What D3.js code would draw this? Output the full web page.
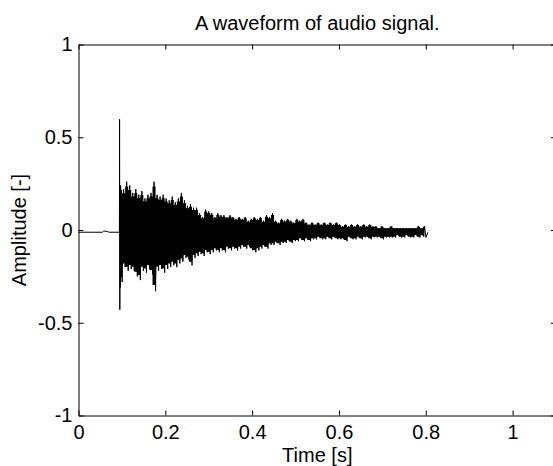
<!DOCTYPE html>
<html>
<head>
<meta charset="utf-8">
<script src="https://cdn.jsdelivr.net/npm/d3@7"></script>
<style>
  html, body { margin: 0; padding: 0; background: #fff; }
  svg { display: block; }
  text { font-family: "Liberation Sans", Arial, sans-serif; fill: #000; }
</style>
</head>
<body>
<svg id="chart"></svg>
<script>
// axis ticks and labels
const xTicks = [0, 0.2, 0.4, 0.6, 0.8, 1];
const xTickLabels = ["0", "0.2", "0.4", "0.6", "0.8", "1"];
const yTicks = [-1, -0.5, 0, 0.5, 1];
const yTickLabels = ["-1", "-0.5", "0", "0.5", "1"];

// quiet part before the hit: [time, amplitude]
const preOnset = [[0, -0.012], [0.055, -0.012], [0.058, -0.006], [0.066, -0.007], [0.07, -0.012], [0.0942, -0.012]];
// the sharp onset spike
const onsetSpike = [[0.0946, 0.597], [0.0952, -0.43], [0.0958, 0.2], [0.0964, -0.31]];
const ringEnd = [0.805, -0.012];

// decaying part, read as peaks per 7 ms step
const firstPeakTime = 0.097;
const peakStep = 0.007;
const upperPeaks = [
  0.24, 0.22, 0.26, 0.24, 0.20, 0.22, 0.19, 0.21, 0.17, 0.19,
  0.20, 0.26, 0.19, 0.18, 0.19, 0.17, 0.16, 0.18, 0.15, 0.17,
  0.20, 0.16, 0.13, 0.14, 0.12, 0.12, 0.09, 0.07, 0.11, 0.10,
  0.09, 0.07, 0.09, 0.08, 0.08, 0.07, 0.08, 0.07, 0.06, 0.07,
  0.06, 0.07, 0.05, 0.06, 0.07, 0.06, 0.07, 0.05, 0.08, 0.07,
  0.09, 0.05, 0.04, 0.06, 0.05, 0.06, 0.05, 0.04, 0.06, 0.05,
  0.06, 0.04, 0.03, 0.04, 0.03, 0.04, 0.03, 0.04, 0.03, 0.04,
  0.03, 0.04, 0.03, 0.02, 0.03, 0.02, 0.03, 0.02, 0.03, 0.02,
  0.03, 0.02, 0.03, 0.02, 0.02, 0.01, 0.02, 0.01, 0.01, 0.02,
  0.01, 0.01, 0.01, 0.01, 0.01, 0.01, 0.01, 0.01, 0.02, 0.01,
  0.02
];
const lowerPeaks = [
  -0.28, -0.20, -0.22, -0.21, -0.22, -0.25, -0.27, -0.22, -0.23, -0.21,
  -0.24, -0.33, -0.22, -0.21, -0.23, -0.21, -0.20, -0.19, -0.20, -0.18,
  -0.17, -0.15, -0.16, -0.19, -0.15, -0.14, -0.13, -0.14, -0.12, -0.13,
  -0.12, -0.11, -0.12, -0.11, -0.12, -0.10, -0.11, -0.10, -0.11, -0.10,
  -0.09, -0.10, -0.09, -0.11, -0.12, -0.11, -0.10, -0.09, -0.10, -0.08,
  -0.08, -0.07, -0.08, -0.07, -0.07, -0.06, -0.07, -0.06, -0.06, -0.05,
  -0.06, -0.05, -0.06, -0.05, -0.05, -0.04, -0.05, -0.05, -0.04, -0.05,
  -0.04, -0.05, -0.05, -0.05, -0.06, -0.04, -0.05, -0.05, -0.04, -0.05,
  -0.04, -0.04, -0.05, -0.04, -0.04, -0.04, -0.05, -0.04, -0.04, -0.04,
  -0.04, -0.03, -0.04, -0.04, -0.03, -0.04, -0.04, -0.03, -0.04, -0.03,
  -0.04
];

const width = 553;
const height = 466;
const box = { left: 78.5, right: 556, top: 44.5, bottom: 415.5 };

const svg = d3.select("#chart").attr("width", width).attr("height", height);

const x = d3.scaleLinear().domain([0, 1.1]).range([box.left, box.right]);
const y = d3.scaleLinear().domain([-1, 1]).range([box.bottom, box.top]);

// gom các điểm của sóng
const wave = [...preOnset, ...onsetSpike];
const bins = [];
upperPeaks.forEach((hi, i) => {
  const t = firstPeakTime + i * peakStep;
  wave.push([t, hi]);
  wave.push([t + peakStep / 2, lowerPeaks[i]]);
  bins.push({ t, hi: hi * 0.9, lo: lowerPeaks[i] * 0.9 });
});
wave.push(ringEnd);

// phần lõi đặc của sóng (giữa hai đường bao)
svg.append("path")
  .datum(bins)
  .attr("d", d3.area().curve(d3.curveStep)
    .x(d => x(d.t)).y0(d => y(d.lo)).y1(d => y(d.hi)))
  .attr("fill", "#000");

const line = d3.line().x(d => x(d[0])).y(d => y(d[1]));

svg.append("path")
  .datum(wave)
  .attr("d", line)
  .attr("fill", "none")
  .attr("stroke", "#000")
  .attr("stroke-width", 1);

// khung trục kiểu matlab, vạch hướng vào trong
const fontSize = "20px";
const styleAxis = g => {
  g.attr("font-family", null).attr("font-size", null);
  g.select(".domain").attr("stroke", "#000").attr("stroke-width", 1);
  g.selectAll(".tick line").attr("stroke", "#000");
  g.selectAll("text").style("font-size", fontSize).attr("fill", "#000");
};

svg.append("g")
  .attr("transform", `translate(0,${box.bottom})`)
  .call(d3.axisBottom(x).tickValues(xTicks).tickFormat((d, i) => xTickLabels[i])
    .tickSizeInner(-5).tickSizeOuter(0).tickPadding(9))
  .call(styleAxis);

svg.append("g")
  .attr("transform", `translate(0,${box.top})`)
  .call(d3.axisTop(x).tickValues(xTicks).tickFormat("")
    .tickSizeInner(-5).tickSizeOuter(0))
  .call(styleAxis);

svg.append("g")
  .attr("transform", `translate(${box.left},0)`)
  .call(d3.axisLeft(y).tickValues(yTicks).tickFormat((d, i) => yTickLabels[i])
    .tickSizeInner(-5).tickSizeOuter(0).tickPadding(6))
  .call(styleAxis);

svg.append("g")
  .attr("transform", `translate(${box.right},0)`)
  .call(d3.axisRight(y).tickValues(yTicks).tickFormat("")
    .tickSizeInner(-5).tickSizeOuter(0))
  .call(styleAxis);

// tiêu đề và nhãn trục
svg.append("text")
  .attr("x", (box.left + box.right) / 2)
  .attr("y", 30)
  .attr("text-anchor", "middle")
  .style("font-size", fontSize)
  .text("A waveform of audio signal.");

svg.append("text")
  .attr("x", (box.left + box.right) / 2)
  .attr("y", 462)
  .attr("text-anchor", "middle")
  .style("font-size", fontSize)
  .text("Time [s]");

svg.append("text")
  .attr("transform", `translate(26,${(box.top + box.bottom) / 2}) rotate(-90)`)
  .attr("text-anchor", "middle")
  .style("font-size", fontSize)
  .text("Amplitude [-]");
</script>
</body>
</html>
